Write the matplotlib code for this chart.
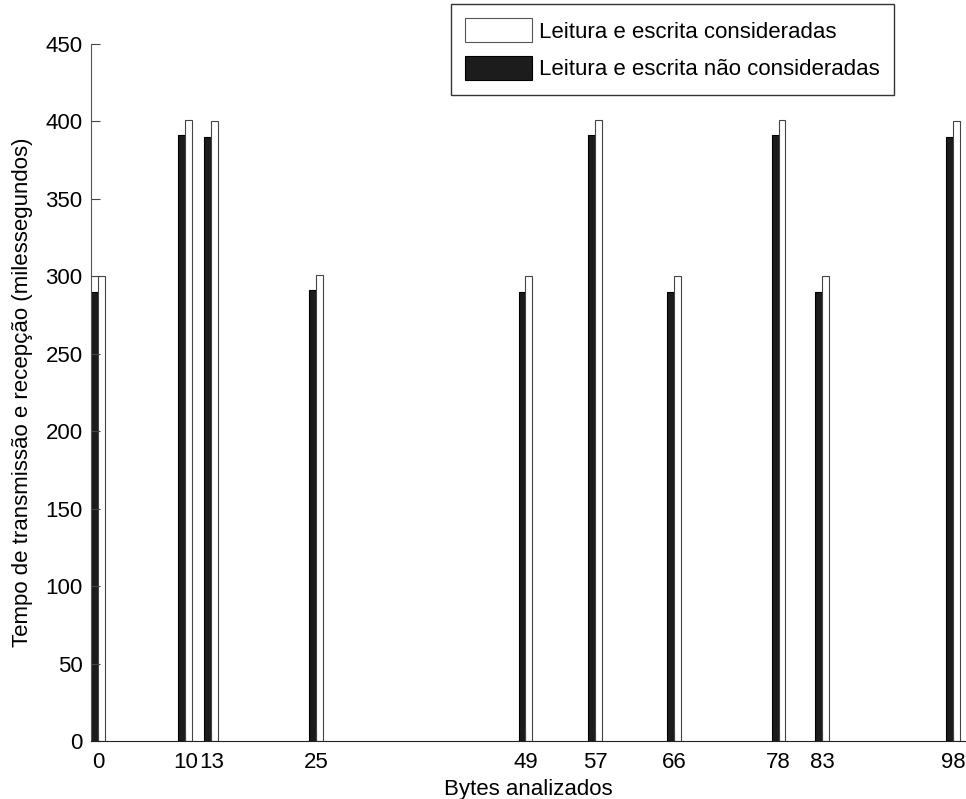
import matplotlib
matplotlib.use("Agg")
import matplotlib.pyplot as plt
import numpy as np
from matplotlib.patches import Patch

plt.rcParams['font.family'] = ['Liberation Sans', 'DejaVu Sans']

# Byte positions analysed
bytes_pos = [0, 10, 13, 25, 49, 57, 66, 78, 83, 98]
# Time (ms) without read/write overhead
tempo_sem_rw = [290, 391, 390, 291, 290, 391, 290, 391, 290, 390]
# Time (ms) with read/write overhead
tempo_com_rw = [300, 401, 400, 301, 300, 401, 300, 401, 300, 400]
tick_labels = ['0', '10', '13', '25', '49', '57', '66', '78', '83', '98']

FS = 16

fig = plt.figure(figsize=(9.66, 7.99), dpi=100)
ax = fig.add_axes([0.0942, 0.0726, 0.905, 0.8723])

x = np.array(bytes_pos, dtype=float)
w = 0.8
ax.bar(x - w / 2, tempo_sem_rw, width=w, color='#1c1c1c', edgecolor='#000000', linewidth=0.8)
ax.bar(x + w / 2, tempo_com_rw, width=w, color='white', edgecolor='#444444', linewidth=0.8)

ax.set_xlim(-0.8, 99.4)
ax.set_ylim(0, 450)
ax.set_yticks(np.arange(0, 451, 50))
ax.set_xticks(bytes_pos)
ax.set_xticklabels(tick_labels)
ax.tick_params(direction='in', length=6.5, labelsize=FS, width=0.8, colors='#444444', labelcolor='black')
ax.tick_params(axis='x', pad=8)
ax.tick_params(axis='y', pad=6)

for s in ['top', 'right']:
    ax.spines[s].set_visible(False)
ax.spines['left'].set_color('#555555')
ax.spines['bottom'].set_color('#222222')

ax.set_xlabel('Bytes analizados', fontsize=FS, labelpad=4)
ax.set_ylabel('Tempo de transmissão e recepção (milessegundos)', fontsize=FS, labelpad=9)

handles = [Patch(facecolor='white', edgecolor='#555555', linewidth=0.8),
           Patch(facecolor='#1c1c1c', edgecolor='#000000', linewidth=0.8)]
leg = fig.legend(handles, ['Leitura e escrita consideradas', 'Leitura e escrita não consideradas'],
                 loc='upper left', bbox_to_anchor=(451 / 966, 1 - 4 / 799),
                 bbox_transform=fig.transFigure, fontsize=FS, frameon=True, fancybox=False,
                 handlelength=3.0, handleheight=1.25, handletextpad=0.3, borderpad=0.65,
                 labelspacing=0.6, borderaxespad=0)
leg.get_frame().set_edgecolor('black')
leg.get_frame().set_linewidth(1.0)

fig.savefig('out.png', dpi=100)
